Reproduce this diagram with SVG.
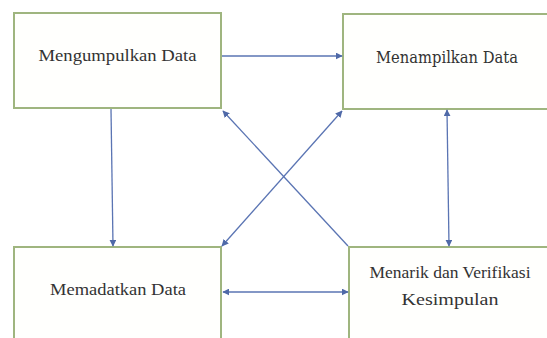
<svg xmlns="http://www.w3.org/2000/svg" width="547" height="338" viewBox="0 0 547 338">
<style>
.box{fill:#fffffd;stroke:#9fb57f;stroke-width:2}
.lbl{font-size:17px;fill:#333;text-anchor:middle}
.con{stroke:#5a74b3;stroke-width:1.3;fill:none}
</style>
<defs>
<marker id="ah" viewBox="0 0 10 10" refX="9" refY="5" markerWidth="7" markerHeight="7" markerUnits="userSpaceOnUse" orient="auto-start-reverse">
<path d="M0,0 L10,5 L0,10 z" fill="#4f69a8"/>
</marker>
</defs>
<rect width="547" height="338" fill="#fff"/>
<g id="n1"><rect class="box" x="14" y="13" width="207" height="95"/>
<text class="lbl" font-family="Liberation Serif" x="117.5" y="61" textLength="158" lengthAdjust="spacingAndGlyphs">Mengumpulkan Data</text></g>
<g id="n2"><rect class="box" x="343" y="14" width="210" height="95"/>
<text class="lbl" font-family="DejaVu Serif" x="447" y="63" textLength="142" lengthAdjust="spacingAndGlyphs">Menampilkan Data</text></g>
<g id="n3"><rect class="box" x="14" y="247" width="207" height="100"/>
<text class="lbl" font-family="serif" x="118" y="295" textLength="136" lengthAdjust="spacingAndGlyphs">Memadatkan Data</text></g>
<g id="n4"><rect class="box" x="349" y="247" width="204" height="100"/>
<text class="lbl" font-family="Liberation Serif, serif" x="450" y="278" textLength="161" lengthAdjust="spacingAndGlyphs">Menarik dan Verifikasi</text>
<text class="lbl" font-family="Liberation Serif, serif" x="450" y="305" textLength="97" lengthAdjust="spacingAndGlyphs">Kesimpulan</text></g>
<g id="connectors">
<line class="con" x1="222" y1="56" x2="342" y2="56" marker-end="url(#ah)"/>
<line class="con" x1="111" y1="109" x2="113" y2="246" marker-end="url(#ah)"/>
<line class="con" x1="447" y1="110" x2="449" y2="246" marker-start="url(#ah)" marker-end="url(#ah)"/>
<line class="con" x1="348" y1="246" x2="223" y2="111" marker-end="url(#ah)"/>
<line class="con" x1="342" y1="111" x2="222" y2="246" marker-start="url(#ah)" marker-end="url(#ah)"/>
<line class="con" x1="223" y1="292" x2="348" y2="292" marker-start="url(#ah)" marker-end="url(#ah)"/>
</g>
</svg>
